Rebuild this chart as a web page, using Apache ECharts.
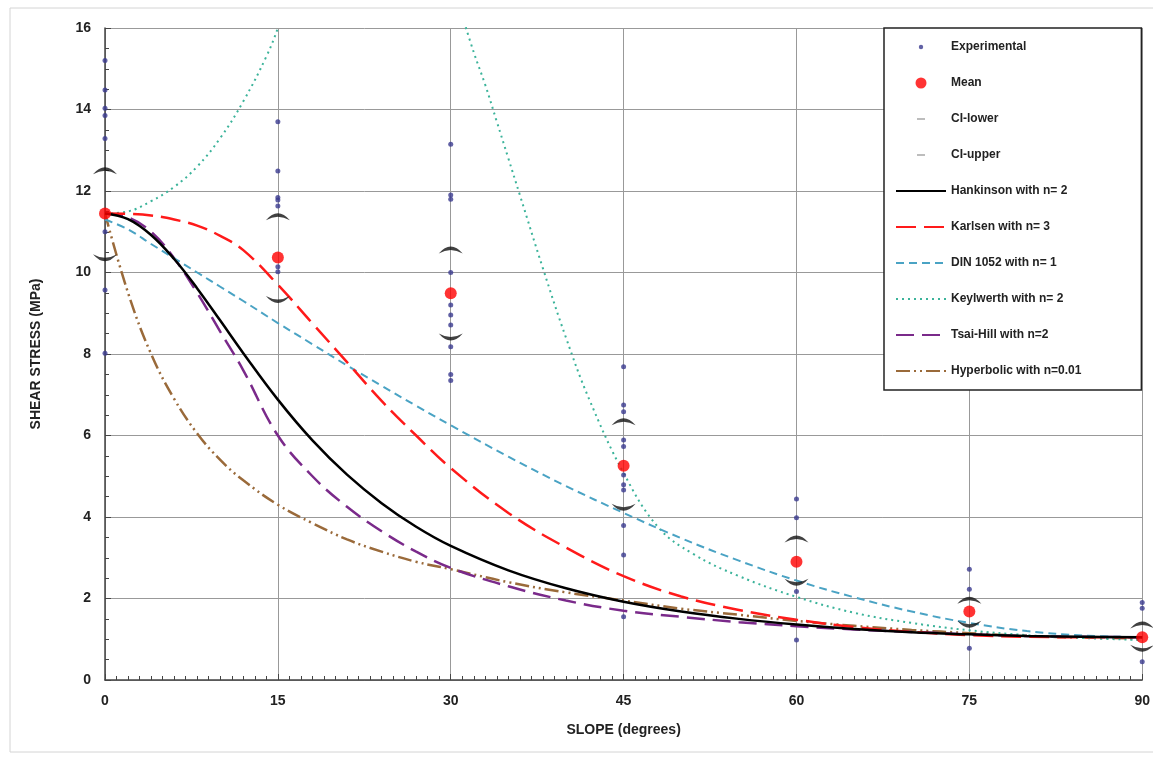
<!DOCTYPE html>
<html lang="en">
<head>
    <meta charset="UTF-8">
    <title>Shear stress vs slope</title>
    <style>
        html, body { margin: 0; padding: 0; background: #fff; }
    </style>
</head>
<body>
<div id="main" style="width: 1153px; height: 757px;"></div>
<script src="https://cdn.jsdelivr.net/npm/echarts@6/dist/echarts.min.js"></script>
<script>
    // experimental points [slope, stress]
    var expPoints = [
        [0, 15.2], [0, 14.48], [0, 14.03], [0, 13.85], [0, 13.29], [0, 11.0], [0, 9.57], [0, 8.02],
        [15, 13.7], [15, 12.49], [15, 11.84], [15, 11.78], [15, 11.63], [15, 10.14], [15, 10.02],
        [30, 13.15], [30, 11.9], [30, 11.8], [30, 10.0], [30, 9.2], [30, 8.96], [30, 8.71], [30, 8.18], [30, 7.5], [30, 7.35],
        [45, 7.69], [45, 6.75], [45, 6.58], [45, 5.89], [45, 5.73], [45, 5.03], [45, 4.79], [45, 4.66], [45, 3.79], [45, 3.07], [45, 1.55],
        [60, 4.44], [60, 3.98], [60, 2.17], [60, 0.98],
        [75, 2.72], [75, 2.23], [75, 0.78],
        [90, 1.9], [90, 1.76], [90, 0.45]
    ];

    var slopes = [0, 15, 30, 45, 60, 75, 90];
    var means = [11.45, 10.37, 9.49, 5.26, 2.9, 1.68, 1.05];
    var ciLower = [10.36, 9.34, 8.42, 4.24, 2.4, 1.37, 0.78];
    var ciUpper = [12.5, 11.37, 10.55, 6.34, 3.46, 1.96, 1.35];

    // model curves
    var curveX = [0, 2, 4, 6, 8, 10, 12, 15, 18, 21, 24, 27, 30, 35, 40, 45, 50, 55, 60, 65, 70, 75, 80, 85, 90];
    var hankinson = [11.45, 11.31, 10.92, 10.33, 9.61, 8.82, 8.02, 6.88, 5.88, 5.04, 4.34, 3.76, 3.29, 2.69, 2.25, 1.92, 1.68, 1.5, 1.36, 1.25, 1.17, 1.12, 1.08, 1.06, 1.05];
    var karlsen = [11.45, 11.44, 11.4, 11.3, 11.15, 10.9, 10.55, 9.7, 8.75, 7.8, 6.85, 6.0, 5.2, 4.1, 3.25, 2.55, 2.05, 1.72, 1.48, 1.3, 1.18, 1.1, 1.06, 1.05, 1.05];
    var din1052 = [11.3, 11.06, 10.7, 10.35, 10.0, 9.65, 9.3, 8.76, 8.24, 7.72, 7.22, 6.73, 6.25, 5.48, 4.76, 4.1, 3.48, 2.93, 2.44, 2.03, 1.68, 1.4, 1.2, 1.09, 1.05];
    var tsaiHill = [11.45, 11.35, 11.0, 10.35, 9.5, 8.55, 7.6, 6.0, 5.0, 4.25, 3.65, 3.15, 2.75, 2.3, 1.95, 1.7, 1.55, 1.42, 1.32, 1.24, 1.18, 1.12, 1.08, 1.06, 1.05];
    var hyperbolic = [11.45, 9.5, 8.0, 6.9, 6.05, 5.4, 4.9, 4.3, 3.85, 3.45, 3.15, 2.9, 2.72, 2.4, 2.15, 1.95, 1.75, 1.6, 1.45, 1.33, 1.23, 1.15, 1.08, 1.04, 1.02];

    var keylX = [0, 2, 4, 6, 8, 10, 12, 14, 15, 15.5, 16, 31, 32, 33, 34, 35, 36, 38, 40, 42, 45, 48, 51, 55, 60, 65, 70, 75, 80, 85, 90];
    var keylwerth = [11.45, 11.5, 11.75, 12.1, 12.6, 13.3, 14.2, 15.3, 16.0, 16.5, null, 16.3, 15.4, 14.6, 13.7, 12.8, 11.9, 10.1, 8.4, 6.9, 5.08, 3.75, 3.1, 2.55, 2.04, 1.65, 1.4, 1.22, 1.1, 1.03, 0.98];

    var xTicks = [0, 90, 15];
    var yTicks = [0, 16, 2];

    function zip(xs, ys) {
        return xs.map(function (x, i) { return [x, ys[i]]; });
    }

    var arcUp = 'path://M0,9 Q12,-3 24,9 Q12,3 0,9Z';
    var arcDown = 'path://M0,0 Q12,12 24,0 Q12,6 0,0Z';
    var dotIcon = 'path://M0,0 M50,14 M22.8,7a2.2,2.2 0 1,0 4.4,0a2.2,2.2 0 1,0 -4.4,0Z';
    var meanIcon = 'path://M0,0 M50,14 M19.5,7a5.5,5.5 0 1,0 11,0a5.5,5.5 0 1,0 -11,0Z';
    var dashIcon = 'path://M0,0 M50,14 M21,6.2 h8 v1.6 h-8Z';

    function curve(name, xs, ys, color, width, dash, z) {
        return {
            name: name,
            type: 'line',
            data: zip(xs, ys),
            smooth: 0.4,
            symbol: 'none',
            connectNulls: false,
            clip: true,
            z: z,
            lineStyle: { color: color, width: width, type: dash, cap: 'butt' },
            itemStyle: { color: color }
        };
    }

    // line entries in the legend: show only the line, not a marker
    function lineEntry(name) {
        return { name: name, itemStyle: { opacity: 0, color: 'rgba(0,0,0,0)', borderWidth: 0 } };
    }

    var myChart = echarts.init(document.getElementById('main'));
    var option = {
        animation: false,
        backgroundColor: '#fff',
        graphic: [{
            type: 'rect',
            shape: { x: 10, y: 8, width: 1150, height: 744 },
            style: { fill: 'none', stroke: '#d4d4d4', lineWidth: 1 },
            silent: true
        }],
        grid: { left: 105, right: 10, top: 28, bottom: 77 },
        xAxis: {
            type: 'value',
            min: xTicks[0], max: xTicks[1], interval: xTicks[2],
            name: 'SLOPE (degrees)',
            nameLocation: 'middle',
            nameGap: 43,
            nameTextStyle: { fontFamily: 'Liberation Sans', fontWeight: 'bold', fontSize: 14, color: '#222' },
            axisLine: { lineStyle: { color: '#444', width: 1.5 } },
            axisTick: { show: true, inside: true, length: 6, lineStyle: { color: '#444' } },
            minorTick: { show: true, splitNumber: 15, length: 4, lineStyle: { color: '#444' } },
            axisLabel: { fontFamily: 'Liberation Sans', fontWeight: 'bold', fontSize: 14, color: '#222', margin: 14 },
            splitLine: { show: true, lineStyle: { color: '#999', width: 1 } }
        },
        yAxis: {
            type: 'value',
            min: yTicks[0], max: yTicks[1], interval: yTicks[2],
            name: 'SHEAR STRESS (MPa)',
            nameLocation: 'middle',
            nameGap: 62,
            nameTextStyle: { fontFamily: 'Liberation Sans', fontWeight: 'bold', fontSize: 14, color: '#222' },
            axisLine: { show: true, lineStyle: { color: '#444', width: 1.5 } },
            axisTick: { show: true, inside: true, length: 6, lineStyle: { color: '#444' } },
            minorTick: { show: true, splitNumber: 4, length: 4, lineStyle: { color: '#444' } },
            axisLabel: { fontFamily: 'Liberation Sans', fontWeight: 'bold', fontSize: 14, color: '#222', margin: 14 },
            splitLine: { show: true, lineStyle: { color: '#999', width: 1 } }
        },
        legend: {
            orient: 'vertical',
            left: 884,
            top: 28,
            padding: [12, 60, 12, 11],
            itemWidth: 50,
            itemHeight: 14,
            itemGap: 22,
            backgroundColor: '#fff',
            borderColor: '#222',
            borderWidth: 1.5,
            borderRadius: 0,
            z: 20,
            textStyle: { fontFamily: 'Liberation Sans', fontWeight: 'bold', fontSize: 12, color: '#222', lineHeight: 14 },
            data: [
                { name: 'Experimental', icon: dotIcon },
                { name: 'Mean', icon: meanIcon },
                { name: 'CI-lower', icon: dashIcon, itemStyle: { color: '#999' } },
                { name: 'CI-upper', icon: dashIcon, itemStyle: { color: '#999' } },
                lineEntry('Hankinson with n= 2'),
                lineEntry('Karlsen with n= 3'),
                lineEntry('DIN 1052 with n= 1'),
                lineEntry('Keylwerth with n= 2'),
                lineEntry('Tsai-Hill with n=2'),
                lineEntry('Hyperbolic with n=0.01')
            ]
        },
        series: [
            curve('Hyperbolic with n=0.01', curveX, hyperbolic, '#9a6a3a', 2.5, [14, 4, 2, 4, 2, 4], 3),
            curve('Tsai-Hill with n=2', curveX, tsaiHill, '#7a2a8a', 2.5, [18, 8], 3),
            curve('Keylwerth with n= 2', keylX, keylwerth, '#3bb39a', 2, [2, 4], 3),
            curve('DIN 1052 with n= 1', curveX, din1052, '#4aa3c4', 2, [8, 5], 3),
            curve('Karlsen with n= 3', curveX, karlsen, '#ff1a1a', 2.5, [20, 8], 3),
            curve('Hankinson with n= 2', curveX, hankinson, '#000', 2.5, 'solid', 4),
            {
                name: 'Experimental',
                type: 'scatter',
                data: expPoints,
                symbolSize: 5,
                z: 5,
                itemStyle: { color: '#3a3a8e' }
            },
            {
                name: 'CI-lower',
                type: 'scatter',
                data: zip(slopes, ciLower),
                symbol: arcDown,
                symbolSize: [24, 7],
                z: 6,
                itemStyle: { color: '#111' }
            },
            {
                name: 'CI-upper',
                type: 'scatter',
                data: zip(slopes, ciUpper),
                symbol: arcUp,
                symbolSize: [24, 7],
                z: 6,
                itemStyle: { color: '#111' }
            },
            {
                name: 'Mean',
                type: 'scatter',
                data: zip(slopes, means),
                symbolSize: 12,
                z: 7,
                itemStyle: { color: '#ff0000' }
            }
        ]
    };

    myChart.setOption(option);
</script>
</body>
</html>
